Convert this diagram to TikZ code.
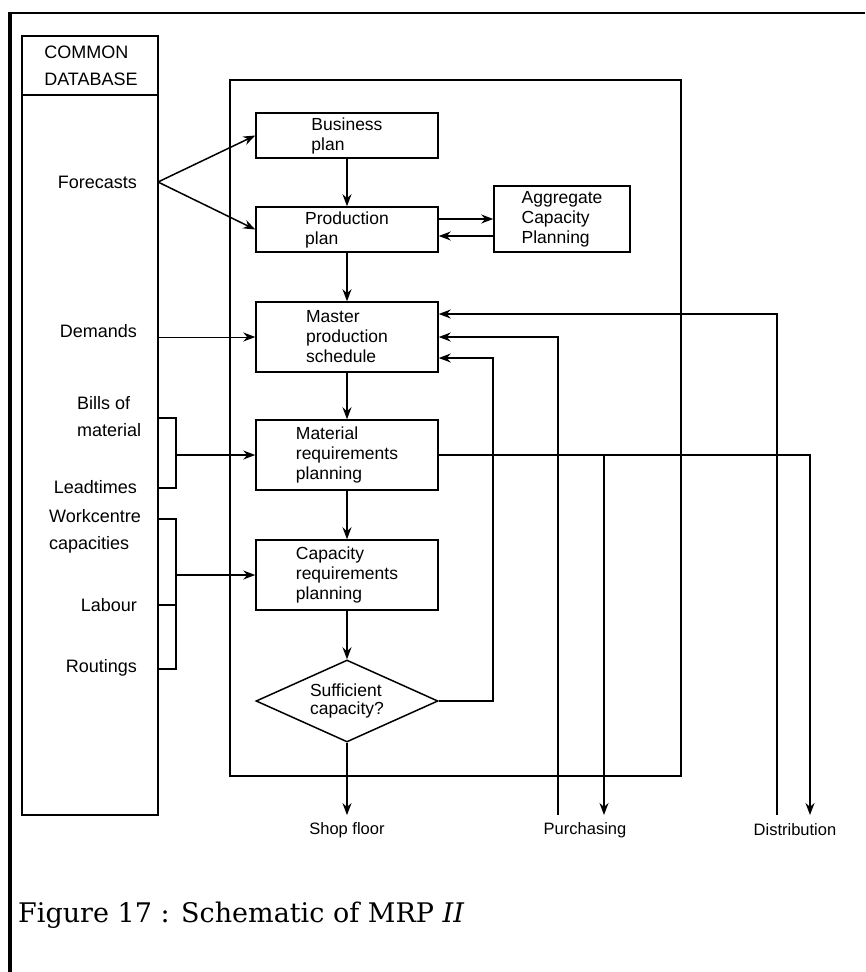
\documentclass[tikz,border=0pt]{standalone}
\usepackage{fontspec}
\setmainfont{Liberation Sans}
\newfontfamily\capfont{DejaVu Serif}
\usetikzlibrary{shapes.geometric,arrows.meta}
\tikzset{box/.style={draw,rectangle,minimum width=182pt,inner sep=0pt,align=left,font=\fontsize{17.5}{20}\selectfont},
         dbtext/.style={align=left,inner sep=0pt,font=\fontsize{18}{27}\selectfont},
         outtext/.style={inner sep=0pt,font=\fontsize{16.5}{20}\selectfont},
         arr/.style={-{Stealth[length=12pt,width=9pt]}}
}

\begin{document}
\begin{tikzpicture}[x=1pt,y=-1pt,draw/.append style={line width=1.5pt,black}]
  \useasboundingbox (0,0) rectangle (865,972);
  \draw[line width=2pt] (9,13) -- (865,13);
  \draw[line width=3.5pt] (10,12) -- (10,972);
  % database column and main frame
  \draw[line width=1.2pt] (22,36) rectangle (158,815);
  \draw (22,95) -- (158,95);
  \draw[line width=1.2pt] (230,80) rectangle (681,776);
  \node[dbtext] (db) at (91,65.5) {COMMON\\DATABASE};
  \node[dbtext,anchor=east] (fcl) at (137,182) {Forecasts};
  \node[dbtext,anchor=east] (dml) at (137,331) {Demands};
  \node[dbtext,anchor=west] (bom) at (77,416.5) {Bills of\\material};
  \node[dbtext,anchor=east] (lt) at (137,487) {Leadtimes};
  \node[dbtext,anchor=west] (wc) at (49,531.5) {Workcentre\\capacities};
  \node[dbtext,anchor=east] (lab) at (137,605) {Labour};
  \node[dbtext,anchor=east] (rt) at (137,668) {Routings};
  % planning boxes
  \node[box,minimum height=45pt] (bp) at (347,135.5) {Business\\plan};
  \node[box,minimum height=45pt] (pp) at (347,229.5) {Production\\plan};
  \node[box,minimum width=136pt,minimum height=66pt] (acp) at (562,219) {Aggregate\\Capacity\\Planning};
  \node[box,minimum height=70pt] (mps) at (347,337) {Master\\production\\schedule};
  \node[box,minimum height=70pt] (mrp) at (347,455) {Material\\requirements\\planning};
  \node[box,minimum height=70pt] (crp) at (347,575) {Capacity\\requirements\\planning};
  \node[box,diamond,aspect=2.2,minimum width=182pt,minimum height=82pt,font=\fontsize{17.5}{18}\selectfont] (suf) at (347,701) {Sufficient\\capacity?};
  \node[outtext] (shop) at (347,830) {Shop floor};
  \node[outtext] (pur) at (585,830) {Purchasing};
  \node[outtext] (dist) at (795,830) {Distribution};
  \node[anchor=west,inner sep=0pt,font=\capfont\fontsize{27}{32}\selectfont] (cap) at (18,915) {Figure 17 : Schematic of MRP \textit{II}};
  \coordinate (fc) at (158,182);
  \coordinate (dm) at (158,337);
  \coordinate (b1t) at (158,418);
  \coordinate (b1b) at (158,488);
  \coordinate (b1m) at (176,455);
  \coordinate (b2t) at (158,519);
  \coordinate (b2b) at (158,669);
  \coordinate (b2l) at (158,605);
  \coordinate (b2m) at (176,575);
  \coordinate (fb) at (493,358);
  \coordinate (purin) at (604,815);
  \coordinate (purout) at (558,815);
  \coordinate (distin) at (810,815);
  \coordinate (distout) at (777,815);
  \draw[arr] (fc) -- (bp.west);
  \draw[arr] (fc) -- (pp.west);
  \draw[arr,line width=1pt] (dm) -- (mps.west);
  \draw (b1t) -- ++(18,0) |- (b1b);
  \draw[arr] (b1m) -- (mrp.west);
  \draw (b2t) -- ++(18,0) |- (b2b);
  \draw (b2l) -- ++(18,0);
  \draw[arr] (b2m) -- (crp.west);
  \foreach \a/\b in {bp/pp,pp/mps,mps/mrp,mrp/crp,crp/suf}
    \draw[arr] (\a) -- (\b);
  \draw[arr] (acp.west -| pp.east) -- (acp.west);
  \draw[arr] ([yshift=-17pt]acp.west) -- ([yshift=-17pt]acp.west -| pp.east);
  % feedback and outputs
  \draw[arr] (suf.east) -| (fb) -- ([yshift=-21pt]mps.east);
  \draw[arr] (purout) |- (mps.east);
  \draw[arr] (distout) |- ([yshift=23pt]mps.east);
  \draw[arr] (mrp.east) -| (distin);
  \draw[arr] (mrp.east -| purin) -- (purin);
  \draw[arr,shorten >=7pt] (suf.south) -- (shop.north);
\end{tikzpicture}
\end{document}
